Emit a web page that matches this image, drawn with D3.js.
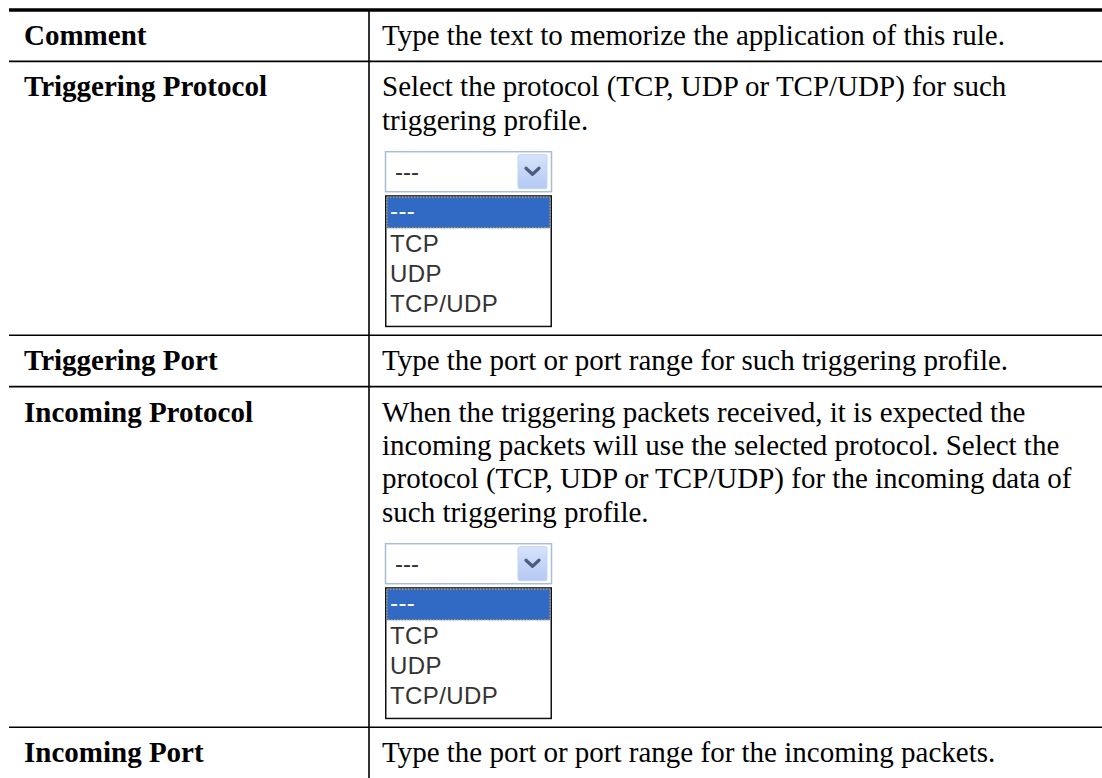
<!DOCTYPE html>
<html>
<head>
<meta charset="utf-8">
<script src="https://cdn.jsdelivr.net/npm/d3@7"></script>
<style>
  html, body { margin: 0; padding: 0; background: #fff; }
  svg { display: block; }
</style>
</head>
<body>
<svg id="chart" width="1102" height="778"></svg>
<script>
// ---- data ----
const labels = ["Comment", "Triggering Protocol", "Triggering Port", "Incoming Protocol", "Incoming Port"];
const descriptions = [
  ["Type the text to memorize the application of this rule."],
  ["Select the protocol (TCP, UDP or TCP/UDP) for such", "triggering profile."],
  ["Type the port or port range for such triggering profile."],
  ["When the triggering packets received, it is expected the",
   "incoming packets will use the selected protocol. Select the",
   "protocol (TCP, UDP or TCP/UDP) for the incoming data of",
   "such triggering profile."],
  ["Type the port or port range for the incoming packets."]
];
const hasSelect = [false, true, false, true, false];
const selectValue = "---";
const selectOptions = ["---", "TCP", "UDP", "TCP/UDP"];

// ---- layout ----
const W = 1102, H = 778;
const tableLeft = 9, tableTop = 10, divX = 369;
const pad = 9, lineH = 33.4, baseOff = 26;
const selGap = 14, selBlock = 176, selBottomPad = 8 - pad;
const selW = 167, selClosedH = 41, listTopOff = 44, hiH = 33, itemH = 30;

const rowHeights = descriptions.map((d, i) =>
  pad * 2 + d.length * lineH + (hasSelect[i] ? selGap + selBlock + selBottomPad : 0));
const rowTops = [];
rowHeights.reduce((acc, h) => { rowTops.push(acc); return acc + h; }, tableTop);

const y = d3.scaleLinear().domain([0, 1]).range([0, 1]); // identity scale for positions
const svg = d3.select("#chart");

const defs = svg.append("defs");
const g1 = defs.append("linearGradient").attr("id", "btnGrad").attr("x1", 0).attr("y1", 0).attr("x2", 0).attr("y2", 1);
g1.append("stop").attr("offset", "0%").attr("stop-color", "#d6e3fb");
g1.append("stop").attr("offset", "100%").attr("stop-color", "#b3c8f3");

const rows = svg.selectAll("g.row").data(labels).join("g")
  .attr("class", "row")
  .attr("transform", (d, i) => `translate(0,${y(rowTops[i])})`);

// labels
rows.append("text")
  .attr("x", 24)
  .attr("y", pad + baseOff)
  .attr("font-family", "'Liberation Serif', 'Times New Roman', serif")
  .attr("font-weight", "bold")
  .attr("font-size", 29)
  .attr("fill", "#000")
  .text(d => d);

// descriptions
rows.each(function(d, i) {
  const g = d3.select(this);
  g.selectAll("text.desc").data(descriptions[i]).join("text")
    .attr("class", "desc")
    .attr("x", 382)
    .attr("y", (t, j) => pad + baseOff + j * lineH)
    .attr("font-family", "'Liberation Serif', 'Times New Roman', serif")
    .attr("font-size", 29)
    .attr("fill", "#000")
    .text(t => t);

  if (hasSelect[i]) {
    const sy = pad + descriptions[i].length * lineH + selGap;
    const s = g.append("g").attr("transform", `translate(385,${sy})`);
    // closed select box
    s.append("rect").attr("x", 0.5).attr("y", 0.5).attr("width", selW - 1).attr("height", selClosedH - 1)
      .attr("fill", "#fff").attr("stroke", "#a9bdd6").attr("stroke-width", 1.5);
    s.append("text").attr("x", 10).attr("y", selClosedH / 2 + 8)
      .attr("font-family", "'Liberation Sans', Arial, sans-serif").attr("font-size", 24)
      .attr("fill", "#333").text(selectValue);
    // dropdown button
    s.append("rect").attr("x", 133).attr("y", 3.5).attr("width", 29).attr("height", 34).attr("rx", 2)
      .attr("fill", "url(#btnGrad)").attr("stroke", "#c2d3f2");
    s.append("path").attr("d", "M141,17 L147.5,23 L154,17")
      .attr("fill", "none").attr("stroke", "#4a5d80").attr("stroke-width", 3.2)
      .attr("stroke-linecap", "round").attr("stroke-linejoin", "round");
    // list
    const l = s.append("g").attr("transform", `translate(0,${listTopOff})`);
    const listH = selBlock - listTopOff;
    l.append("rect").attr("x", 0.75).attr("y", 0.75).attr("width", selW - 1.5).attr("height", listH - 1.5)
      .attr("fill", "#fff").attr("stroke", "#111").attr("stroke-width", 1.5);
    l.append("rect").attr("x", 1.5).attr("y", 1.5).attr("width", selW - 3).attr("height", hiH - 1.5)
      .attr("fill", "#316ac5");
    l.append("rect").attr("x", 2).attr("y", 2).attr("width", selW - 4).attr("height", hiH - 2.5)
      .attr("fill", "none").attr("stroke", "#d9a53a").attr("stroke-width", 1).attr("stroke-dasharray", "1.5,1.5");
    l.selectAll("text.opt").data(selectOptions).join("text")
      .attr("class", "opt")
      .attr("x", 5)
      .attr("y", (o, k) => k === 0 ? 24 : hiH + 24 + (k - 1) * itemH)
      .attr("font-family", "'Liberation Sans', Arial, sans-serif").attr("font-size", 24)
      .attr("letter-spacing", 0.4)
      .attr("fill", (o, k) => k === 0 ? "#fff" : "#333")
      .text(o => o);
  }
});

// rules
svg.append("line").attr("x1", tableLeft).attr("x2", W).attr("y1", tableTop).attr("y2", tableTop)
  .attr("stroke", "#000").attr("stroke-width", 3.5);
svg.selectAll("line.hr").data(rowTops.slice(1)).join("line")
  .attr("class", "hr")
  .attr("x1", tableLeft).attr("x2", W)
  .attr("y1", d => y(d)).attr("y2", d => y(d))
  .attr("stroke", "#000").attr("stroke-width", 1.6);
svg.append("line").attr("x1", divX).attr("x2", divX).attr("y1", tableTop).attr("y2", H)
  .attr("stroke", "#000").attr("stroke-width", 1.6);
</script>
</body>
</html>
